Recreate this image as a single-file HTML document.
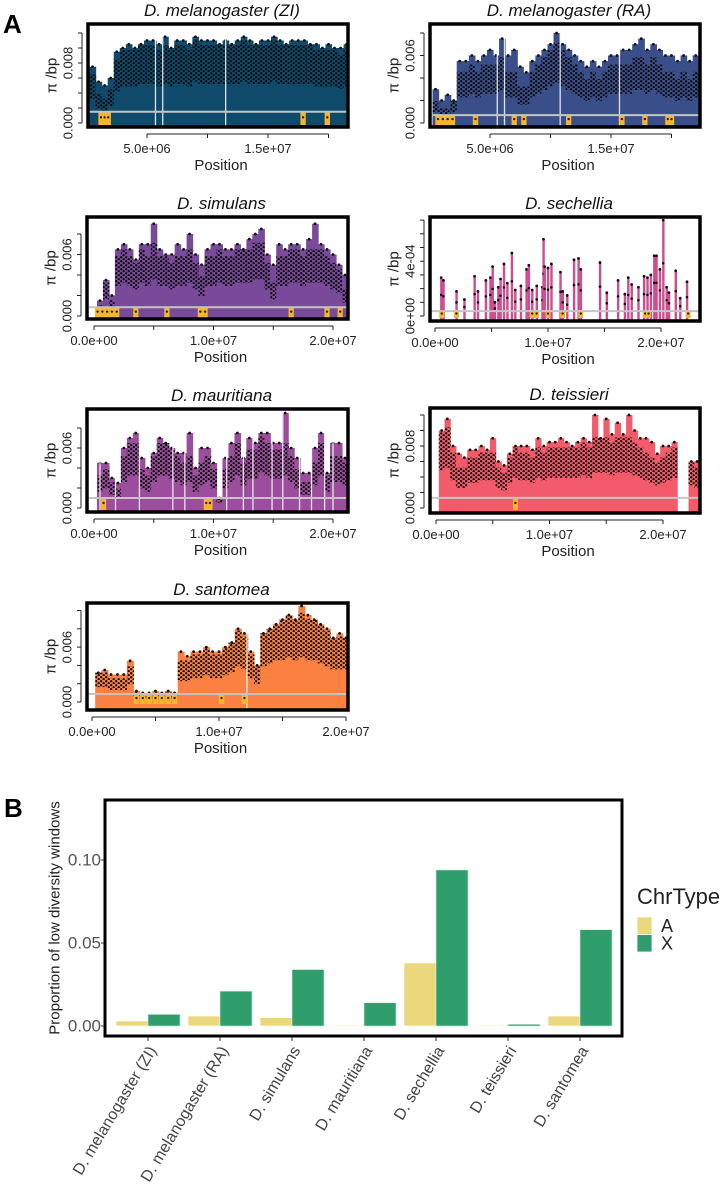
<!DOCTYPE html>
<html><head><meta charset="utf-8">
<style>
html,body{margin:0;padding:0;background:#fff;overflow:hidden;}
svg{display:block;font-family:"Liberation Sans",Arial,sans-serif;}
</style></head>
<body>
<svg id="fig" width="724" height="1199" viewBox="0 0 724 1199" xmlns="http://www.w3.org/2000/svg">
<defs>
<pattern id="dots" width="5" height="4" patternUnits="userSpaceOnUse">
<circle cx="1.2" cy="1.2" r="1.15" fill="#0a0a0a"/><circle cx="3.7" cy="3.2" r="1.15" fill="#0a0a0a"/>
</pattern>
</defs>
<text x="3" y="33" font-size="26" font-weight="bold">A</text>
<text x="4" y="817" font-size="26" font-weight="bold">B</text>
<g id="panelA"></g>
<g id="panelB"></g>
</svg>
<script>
// ===== Panel A data (positions in Mb, diversity in units of 0.001 except sechellia in 1e-4) =====
const ziTop = [7.5,5.5,5,6,9.5,10,10.5,10,10.5,11,11,10.5,11.5,10,11,11,10.5,11.5,11,11,11,10.5,11,10.5,11,11.5,11,10.5,11,11,11.5,11,10.5,11,11,11,10.5,10.5,10,10.5,10,10,10.5,10,11,9.5];
const ziDots = [5,3,2.5,3.5,6.5,7.5,7.5,7.5,8,8,8,7.5,8,7.5,8,8,7.5,8.5,8,8,8,8,8,8,8,8.5,8,8,8,8,8.5,8,8,8,8,8,8,7.5,7.5,7.5,7.5,7,7.5,7.5,8,7];
const ziGaps = [5.7,6.3,11.5];
const ziLow = [1.2,1.5,1.8,17.9,19.9];

const raTop = [3,2,2.5,2,5.5,5.5,6,5.5,6,6.5,6,7.5,6,6.5,5,4.5,5.5,6,6.5,7,8,7,6.5,6,5.5,5,5.5,5,5.5,6,6,6.5,6.5,7,7.5,6.5,7,6.5,6,6,5.5,6,5.5,6,5.5,5.5];
const raDots = [1.5,1,1,1.5,3.5,3.5,4,3.5,4,4,4,4.5,3.5,3.5,2.5,2.5,3.5,4,4.5,5,5.5,5,4.5,4,3.5,3,3.5,3,3.5,4,4,4,4,4.5,4.5,4,4.5,4,3.5,3.5,3,3.5,3,3.5,3.5,3.5];
const raGaps = [5.6,6.2,10.8,15.7];
const raLow = [0.7,1.1,1.5,1.9,3.8,7.0,7.8,11.5,15.9,17.8,19.7,20.0];

const simTop = [1.5,3.5,2,6.5,7,6.5,5.5,7,7,9,6.5,6,6,7,6.5,8,6,5,6.5,7,7,6.5,6.5,7,6.5,7.5,8,8.5,6,5,7,6.5,7,7,6.5,7.5,9,7,6.5,6,5,4];
const simDots = [0.8,2.5,1.2,4.5,5,4.5,4,5,4.5,5.5,4.5,4.5,4,4.5,4.5,5,4,3,4.5,4.5,5,4.5,4.5,5,5,5,5.5,5.5,4,2.5,4.5,4.5,5,5,4.5,5,5,5,4.5,4,3.5,2];
const simGaps = [];
const simLow = [0.3,0.7,1.1,1.5,1.9,3.5,6.1,8.9,9.3,16.5,19.5,20.6];

const sechPos = [0.55,0.75,1.9,2.6,3.5,3.8,4.5,4.9,5.1,5.3,5.6,5.8,6.1,6.4,6.8,7.1,7.6,8.1,8.3,8.6,9.0,9.5,9.6,9.7,10.0,10.3,11.1,11.3,11.7,12.3,12.7,12.9,14.6,15.2,16.2,16.8,17.1,17.4,18.0,18.5,18.8,19.1,19.4,19.6,19.9,20.2,20.5,20.7,21.3,21.7,22.3];
const sechVal = [2.8,2.6,1.8,1.2,2.9,1.8,2.6,2.8,3.6,1.0,2.1,2.7,3.8,2.4,4.6,1.9,2.2,3.4,3.7,1.9,2.2,2.1,5.6,3.6,3.5,3.8,3.2,1.8,1.5,4.1,4.2,3.4,3.9,1.7,2.6,1.6,2.8,2.3,2.1,2.9,2.8,3.0,4.4,4.4,3.4,7.0,2.1,1.7,3.3,1.3,2.5];
const sechGaps = [];
const sechLow = [0.6,1.9,8.6,9.0,10.0,11.3,12.9,18.6,18.9,22.4];

const maurTop = [4.5,4.5,3,2.5,6,7,7.5,5,4,5.5,7,6.5,6,5.5,5.5,7.5,4,6,6,4.5,1,5,6.5,7.5,5,7,6.5,7.5,7.5,6.5,6.5,9.5,6,5,3.5,3.5,6,7.5,3.5,6.5,6.5,5];
const maurDots = [2.5,3,2,1.5,4,5,5,3,2.5,4,5,5,4.5,4,3.5,4,2.5,3.5,4,3,0.8,3,4,5,3.5,4.5,4.5,5.5,5,4.5,4.5,5,4,3,2,2,3.5,5,2.5,4,4,3.5];
const maurGaps = [0.5,1.8,3.8,6.6,7.6,11.1,12.5,13.3,14.9,15.8,17.2,18.2,19.3,20.0];
const maurLow = [0.8,9.4,9.7];

const teisTop = [10,11.5,8,7,6.5,7.5,7.5,8,7.5,9,6,5.5,7,8,8,8,7.5,9,8,8.5,8.5,9,8.5,8,8.5,9,8.5,12,9,11.5,9.5,11,9.5,12,10,9,9,8.5,7,8,8,8.5,null,null,6,6];
const teisDots = [7.5,8,5.5,4,4,5,5,5.5,5.5,5.5,4,3.5,5,6,5.5,5.5,5,6,5.5,6,6,6,6,6,6,6.5,6,7,7,7,6.5,7,7,7,6.5,6,5.5,5,4.5,5,5.5,6,null,null,4.5,4];
const teisGaps = [];
const teisLow = [7.0];

const santTop = [3.2,3.5,3,3,3,4.5,1.2,1,1,1.2,1,1.2,1,5.5,5,5.5,5.5,6,5.5,5.5,6,6.5,8,7.5,5.5,4,7.5,8,8.5,9,9.5,9,10.5,9.5,9,8.5,8,7,7.5,7];
const santDots = [2.5,2.5,2,2,2,3,0.8,0.7,0.7,0.8,0.7,0.8,0.7,3.5,3.5,4,4,4.5,4,4,4.5,5,6,5.5,4,3,6,6.5,7,7,7.5,7,7.5,7,7,6.5,6,5.5,5.5,5.5];
const santGaps = [12.2];
const santLow = [3.5,4.0,4.5,5.0,5.5,6.0,6.5,10.2,12.0];

// ===== Panel B data =====
const speciesB = ["D. melanogaster (ZI)","D. melanogaster (RA)","D. simulans","D. mauritiana","D. sechellia","D. teissieri","D. santomea"];
const valA = [0.003,0.006,0.005,0.0005,0.038,0.0005,0.006];
const valX = [0.007,0.021,0.034,0.014,0.094,0.001,0.058];
const yTicksB = [0,0.05,0.10];
const yTickLabelsB = ["0.00","0.05","0.10"];

// ===== drawing =====
const NS = "http://www.w3.org/2000/svg";
function mk(tag, attrs, parent){
  const e = document.createElementNS(NS, tag);
  for (const k in attrs) e.setAttribute(k, attrs[k]);
  parent.appendChild(e);
  return e;
}
const panels = [
 {name:"melanogaster-zi", title:"D. melanogaster (ZI)", color:"#0f4a6b", top:ziTop, dots:ziDots, start:0.5, step:0.5, gaps:ziGaps, low:ziLow, gray:1.5,
  fl:88, ft:24, fr:348, fb:127, x0:86.5, kx:12.1, y0:123, ky:7.5, yt:[0,2,4,6,8,10,12], yl:{0:"0.000",8:"0.008"}, xt:[5,10,15,20], xl:{5:"5.0e+06",15:"1.5e+07"}},
 {name:"melanogaster-ra", title:"D. melanogaster (RA)", color:"#3a4f8a", top:raTop, dots:raDots, start:0.5, step:0.5, gaps:raGaps, low:raLow, gray:0.7,
  fl:430, ft:24, fr:700, fb:127, x0:429.5, kx:12.1, y0:123, ky:11.25, yt:[0,2,4,6,8], yl:{0:"0.000",6:"0.006"}, xt:[5,10,15,20], xl:{5:"5.0e+06",15:"1.5e+07"}},
 {name:"simulans", title:"D. simulans", color:"#7a4a9a", top:simTop, dots:simDots, start:0.5, step:0.5, gaps:simGaps, low:simLow, gray:0.85,
  fl:87, ft:217, fr:348, fb:319, x0:94, kx:11.95, y0:316, ky:10.25, yt:[0,2,4,6,8], yl:{0:"0.000",6:"0.006"}, xt:[0,5,10,15,20], xl:{0:"0.0e+00",10:"1.0e+07",20:"2.0e+07"}},
 {name:"sechellia", title:"D. sechellia", color:"#cc4e8c", sparse:true, pos:sechPos, vals:sechVal, gaps:sechGaps, low:sechLow, gray:0.36,
  fl:430, ft:217, fr:700, fb:321, x0:435, kx:11.3, y0:316, ky:13.7, yt:[0,1,2,3,4,5,6,7], yl:{0:"0e+00",4:"4e-04"}, xt:[0,5,10,15,20], xl:{0:"0.0e+00",10:"1.0e+07",20:"2.0e+07"}},
 {name:"mauritiana", title:"D. mauritiana", color:"#9a4e9c", top:maurTop, dots:maurDots, start:0.5, step:0.5, gaps:maurGaps, low:maurLow, gray:1.0,
  fl:87, ft:409, fr:348, fb:512, x0:94, kx:11.95, y0:508, ky:10, yt:[0,2,4,6,8], yl:{0:"0.000",6:"0.006"}, xt:[0,5,10,15,20], xl:{0:"0.0e+00",10:"1.0e+07",20:"2.0e+07"}},
 {name:"teissieri", title:"D. teissieri", color:"#f35b6b", top:teisTop, dots:teisDots, start:0.5, step:0.5, gaps:teisGaps, low:teisLow, gray:1.3,
  fl:430, ft:408, fr:700, fb:513, x0:436, kx:11.35, y0:508, ky:7.75, yt:[0,2,4,6,8,10,12], yl:{0:"0.000",8:"0.008"}, xt:[0,5,10,15,20], xl:{0:"0.0e+00",10:"1.0e+07",20:"2.0e+07"}},
 {name:"santomea", title:"D. santomea", color:"#fb8142", top:santTop, dots:santDots, start:0.5, step:0.5, gaps:santGaps, low:santLow, gray:0.87,
  fl:87, ft:603, fr:348, fb:710, x0:92, kx:12.7, y0:702, ky:9.15, yt:[0,2,4,6,8,10], yl:{0:"0.000",6:"0.006"}, xt:[0,5,10,15,20], xl:{0:"0.0e+00",10:"1.0e+07",20:"2.0e+07"}}
];

const A = document.getElementById("panelA");
panels.forEach((p, pi) => {
  const g = mk("g", {}, A);
  
  
  const X = mb => p.x0 + mb * p.kx;
  const Y = v => p.y0 - v * p.ky;
  const cid = "clip" + pi;
  const cp = mk("clipPath", {id: cid}, g);
  mk("rect", {x: p.fl, y: p.ft, width: p.fr - p.fl, height: p.fb - p.ft}, cp);
  const inner = mk("g", {"clip-path": "url(#" + cid + ")"}, g);
  mk("rect", {x: p.fl, y: p.ft, width: p.fr - p.fl, height: p.fb - p.ft, fill: "#fff"}, inner);
  if (p.sparse) {
    p.pos.forEach((m, i) => {
      const b = mk("rect", {x: X(m) - 1.1, y: Y(p.vals[i]), width: 2.4, height: p.fb - Y(p.vals[i]), fill: p.color}, inner);
      
      
      const d = mk("circle", {cx: X(m), cy: Y(p.vals[i]), r: 1.4, fill: "#111"}, inner);
      
      
      const d2 = mk("circle", {cx: X(m), cy: Y(p.vals[i] * 0.55), r: 1.3, fill: "#111"}, inner);
      
      
    });
  } else {
    p.top.forEach((v, i) => {
      if (v === null) return;
      const c = p.start + i * p.step;
      const xl = X(c - p.step / 2), w = p.step * p.kx + 0.6;
      const b = mk("rect", {x: xl, y: Y(v), width: w, height: p.fb - Y(v), fill: p.color}, inner);
      
      
      const dv = p.dots[i];
      const hi = Math.min(v, dv * 1.3), lo = dv * 0.65;
      const cl = mk("rect", {x: xl, y: Y(hi), width: w, height: Math.max(0, Y(lo) - Y(hi)), fill: "url(#dots)"}, inner);
      
      
      const d = mk("circle", {cx: X(c), cy: Y(v), r: 1.4, fill: "#111"}, inner);
      
      
    });
  }
  p.gaps.forEach(m => {
    const l = mk("line", {x1: X(m), x2: X(m), y1: p.fb, y2: p.ft + 4, stroke: "#fff", "stroke-width": 1.3, opacity: 0.85}, inner);
    
    
  });
  p.low.forEach(m => {
    const r = mk("rect", {x: X(m) - 0.22 * p.kx, y: Y(p.gray), width: 0.44 * p.kx, height: Y(0) - Y(p.gray) + 2, fill: "#f6b52e"}, inner);
    
    
    mk("circle", {cx: X(m), cy: Y(p.gray * 0.5), r: 1.2, fill: "#222"}, inner);
  });
  const gl = mk("line", {x1: p.fl, x2: p.fr, y1: Y(p.gray), y2: Y(p.gray), stroke: "#c4c4c4", "stroke-width": 2}, inner);
  
  
  const fr = mk("rect", {x: p.fl, y: p.ft, width: p.fr - p.fl, height: p.fb - p.ft, fill: "none", stroke: "#000", "stroke-width": 3.5}, g);
  
  
  const ax = p.fl - 6;
  const ya = mk("g", {}, g);
  
  
  mk("line", {x1: ax, x2: ax, y1: Y(p.yt[0]), y2: Y(p.yt[p.yt.length - 1]), stroke: "#222", "stroke-width": 1}, ya);
  p.yt.forEach(t => {
    mk("line", {x1: ax - 4, x2: ax, y1: Y(t), y2: Y(t), stroke: "#222", "stroke-width": 1}, ya);
    if (p.yl[t] !== undefined) {
      const tx = mk("text", {x: p.fl - 20, y: Y(t), "font-size": 13, "text-anchor": "middle", "dominant-baseline": "central", fill: "#222", transform: "rotate(-90 " + (p.fl - 20) + " " + Y(t) + ")"}, ya);
      tx.textContent = p.yl[t];
      
      
    }
  });
  const yt = mk("text", {x: p.fl - 36, y: (p.ft + p.fb) / 2, "font-size": 15, "text-anchor": "middle", "dominant-baseline": "central", fill: "#222", transform: "rotate(-90 " + (p.fl - 36) + " " + ((p.ft + p.fb) / 2) + ")"}, g);
  yt.textContent = "π /bp";
  
  
  const ay = p.fb + 7;
  const xa = mk("g", {}, g);
  
  
  mk("line", {x1: X(p.xt[0]), x2: X(p.xt[p.xt.length - 1]), y1: ay, y2: ay, stroke: "#222", "stroke-width": 1}, xa);
  p.xt.forEach(t => {
    mk("line", {x1: X(t), x2: X(t), y1: ay, y2: ay + 4, stroke: "#222", "stroke-width": 1}, xa);
    if (p.xl[t] !== undefined) {
      const tx = mk("text", {x: X(t), y: p.fb + 26, "font-size": 13, "text-anchor": "middle", fill: "#222"}, xa);
      tx.textContent = p.xl[t];
      
      
    }
  });
  const xt = mk("text", {x: (p.fl + p.fr) / 2 + 3, y: p.fb + 43, "font-size": 15, "text-anchor": "middle", fill: "#222"}, g);
  xt.textContent = "Position";
  
  
  const tt = mk("text", {x: (p.fl + p.fr) / 2 + 4, y: p.ft - 8, "font-size": 17, "font-style": "italic", "text-anchor": "middle", fill: "#111"}, g);
  tt.textContent = p.title;
  
  
});

// ===== Panel B =====
const B = document.getElementById("panelB");
const bFrame = {l: 105, t: 800, r: 622, b: 1036};
const yB = v => 1026 - v * 1660;
const xB = i => 148 + i * 72;
const colA = "#ecd87c", colX = "#2f9e6c";
valA.forEach((v, i) => {
  const r = mk("rect", {x: xB(i) - 32, y: yB(v), width: 32, height: yB(0) - yB(v), fill: colA, stroke: "#fff", "stroke-width": 0.6}, B);
  
  
});
valX.forEach((v, i) => {
  const r = mk("rect", {x: xB(i), y: yB(v), width: 32, height: yB(0) - yB(v), fill: colX, stroke: "#c9f0dc", "stroke-width": 0.6}, B);
  
  
});
const bf = mk("rect", {x: bFrame.l, y: bFrame.t, width: bFrame.r - bFrame.l, height: bFrame.b - bFrame.t, fill: "none", stroke: "#000", "stroke-width": 3}, B);


yTicksB.forEach((t, i) => {
  mk("line", {x1: bFrame.l - 4, x2: bFrame.l - 1, y1: yB(t), y2: yB(t), stroke: "#333", "stroke-width": 1}, B);
  const tx = mk("text", {x: bFrame.l - 4, y: yB(t), "font-size": 17, "text-anchor": "end", "dominant-baseline": "central", fill: "#555"}, B);
  tx.textContent = yTickLabelsB[i];
  
  
});
speciesB.forEach((s, i) => {
  mk("line", {x1: xB(i), x2: xB(i), y1: bFrame.b + 1, y2: bFrame.b + 5, stroke: "#333", "stroke-width": 1}, B);
  const ax = xB(i) + 5, ay = bFrame.b + 12;
  const tx = mk("text", {x: ax, y: ay, "font-size": 16, "text-anchor": "end", "dominant-baseline": "central", fill: "#444", transform: "rotate(-59 " + ax + " " + ay + ")"}, B);
  tx.textContent = s;
  
  
});
const ybt = mk("text", {x: 55, y: 918, "font-size": 15, "text-anchor": "middle", "dominant-baseline": "central", fill: "#222", transform: "rotate(-90 55 918)"}, B);
ybt.textContent = "Proportion of low diversity windows";


const lg = mk("g", {}, B);


const lt = mk("text", {x: 637, y: 904, "font-size": 22, fill: "#222"}, lg);
lt.textContent = "ChrType";


[["A", colA], ["X", colX]].forEach((e, i) => {
  const sw = mk("rect", {x: 637, y: 917 + i * 17.5, width: 15, height: 17.5, fill: e[1], stroke: "#fff", "stroke-width": 0.8}, lg);
  
  
  const t = mk("text", {x: 661, y: 926 + i * 17.5, "font-size": 18, "dominant-baseline": "central", fill: "#222"}, lg);
  t.textContent = e[0];
  
  
});
</script>
</body></html>
